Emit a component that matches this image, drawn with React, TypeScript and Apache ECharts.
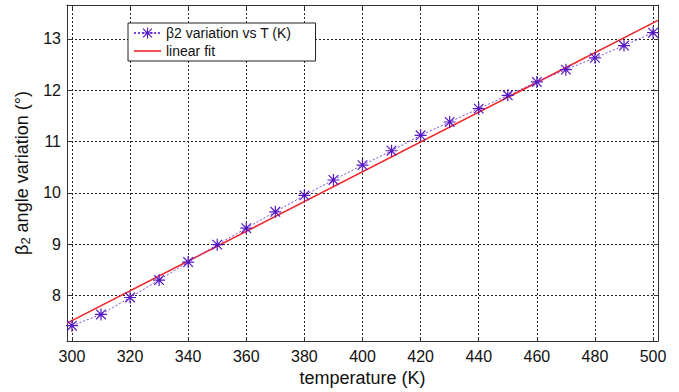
import React, { useEffect, useRef } from "react";
import * as echarts from "echarts";

const temperatures = [300, 310, 320, 330, 340, 350, 360, 370, 380, 390, 400, 410, 420, 430, 440, 450, 460, 470, 480, 490, 500];
const beta2Variation = [7.41, 7.63, 7.96, 8.30, 8.65, 8.99, 9.31, 9.63, 9.95, 10.25, 10.54, 10.82, 11.12, 11.38, 11.64, 11.90, 12.16, 12.40, 12.63, 12.87, 13.12];
const fitTemperatures = [298.3, 501.7];
const fitValues = [7.46, 13.36];
const xTicks = [300, 320, 340, 360, 380, 400, 420, 440, 460, 480, 500];
const yTicks = [8, 9, 10, 11, 12, 13];

const ASTERISK =
  "path://M9 0H11V20H9Z M0 9H20V11H0Z M2.7 1.3L18.7 17.3L17.3 18.7L1.3 2.7Z M18.7 2.7L2.7 18.7L1.3 17.3L17.3 1.3Z";
const LINE_ICON = "path://M0 0M27 14M0 6.2H27V7.8H0Z";

export default function App() {
  const ref = useRef<HTMLDivElement>(null);
  useEffect(() => {
    if (!ref.current) return;
    const chart = echarts.init(ref.current, null, { renderer: "svg" });
    const font = "'Liberation Sans', Arial, sans-serif";
    const axisColor = "#333";
    const grid = { left: 67, top: 5, right: 21, bottom: 49, containLabel: false };
    chart.setOption({
      animation: false,
      backgroundColor: "#fff",
      textStyle: { fontFamily: font },
      grid,
      legend: {
        orient: "vertical",
        left: 128,
        top: 23,
        padding: [3, 24, 3, 5],
        itemWidth: 27,
        itemHeight: 14,
        itemGap: 4,
        borderColor: "#222",
        borderWidth: 1,
        backgroundColor: "#fff",
        textStyle: { fontSize: 14, color: "#111", fontFamily: font },
        data: [
          { name: "β2 variation vs T (K)" },
          { name: "linear fit", icon: LINE_ICON },
        ],
      },
      xAxis: [
        {
          type: "value",
          min: 298.3,
          max: 501.7,
          position: "bottom",
          name: "temperature (K)",
          nameLocation: "middle",
          nameGap: 27,
          nameTextStyle: { fontSize: 18, color: "#111", fontFamily: font },
          axisLine: { show: true, lineStyle: { color: axisColor, width: 1 } },
          axisTick: { show: true, inside: true, length: 4, customValues: xTicks, lineStyle: { color: axisColor } },
          axisLabel: { customValues: xTicks, fontSize: 16, color: "#111", margin: 7, fontFamily: font },
          splitLine: { show: true, lineStyle: { color: "#222", type: [2, 2], width: 1 } },
        },
        {
          type: "value",
          min: 298.3,
          max: 501.7,
          position: "top",
          axisLine: { show: true, lineStyle: { color: axisColor, width: 1 } },
          axisTick: { show: true, inside: true, length: 4, customValues: xTicks, lineStyle: { color: axisColor } },
          axisLabel: { show: false },
          splitLine: { show: false },
        },
      ],
      yAxis: [
        {
          type: "value",
          min: 7.11,
          max: 13.66,
          position: "left",
          name: "{b|β}{s|2}{b| angle variation (°)}",
          nameLocation: "middle",
          nameGap: 35,
          nameRotate: 90,
          nameTextStyle: {
            color: "#111",
            fontFamily: font,
            rich: {
              b: { fontSize: 18, color: "#111", fontFamily: font },
              s: { fontSize: 13, color: "#111", fontFamily: font, padding: [7, 0, 0, 0] },
            },
          },
          axisLine: { show: true, lineStyle: { color: axisColor, width: 1 } },
          axisTick: { show: true, inside: true, length: 4, customValues: yTicks, lineStyle: { color: axisColor } },
          axisLabel: { customValues: yTicks, fontSize: 16, color: "#111", margin: 6, fontFamily: font },
          splitLine: { show: true, lineStyle: { color: "#222", type: [2, 2], width: 1 } },
        },
        {
          type: "value",
          min: 7.11,
          max: 13.66,
          position: "right",
          axisLine: { show: true, lineStyle: { color: axisColor, width: 1 } },
          axisTick: { show: true, inside: true, length: 4, customValues: yTicks, lineStyle: { color: axisColor } },
          axisLabel: { show: false },
          splitLine: { show: false },
        },
      ],
      series: [
        {
          name: "linear fit",
          type: "line",
          xAxisIndex: 0,
          yAxisIndex: 0,
          data: fitTemperatures.map((t, i) => [t, fitValues[i]]),
          showSymbol: false,
          symbol: "none",
          lineStyle: { color: "#f0262a", width: 1.6 },
          itemStyle: { color: "#f0262a" },
          z: 2,
        },
        {
          name: "β2 variation vs T (K)",
          type: "line",
          xAxisIndex: 0,
          yAxisIndex: 0,
          data: temperatures.map((t, i) => [t, beta2Variation[i]]),
          symbol: ASTERISK,
          symbolSize: 12,
          lineStyle: { color: "#7b45e0", width: 1, type: [2, 2] },
          itemStyle: { color: "#5418c4" },
          z: 3,
        },
      ],
    });
    return () => chart.dispose();
  }, []);
  return (
    <div
      ref={ref}
      style={{ position: "fixed", left: 0, top: 0, width: 679, height: 392, background: "#fff" }}
    />
  );
}
